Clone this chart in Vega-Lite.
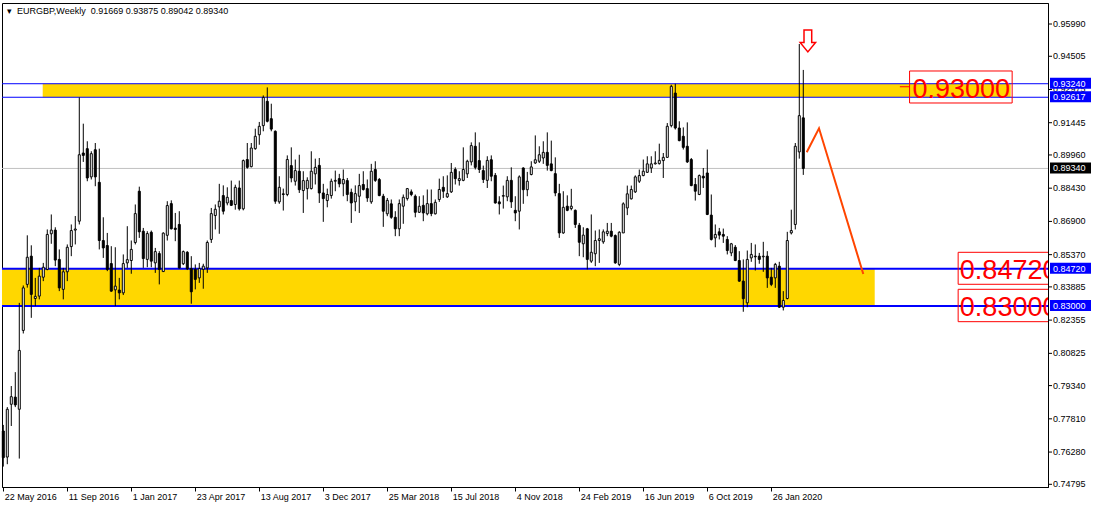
{
  "$schema": "https://vega.github.io/schema/vega-lite/v6.json",
  "width": 1046,
  "height": 484,
  "autosize": {"type": "none"},
  "padding": {"left": 2, "top": 3, "right": 46, "bottom": 21},
  "background": "white",
  "config": {"view": {"stroke": "black", "strokeWidth": 1}, "font": "Liberation Sans", "axis": {"labelOverlap": false, "labelFlush": false}},
  "title": {"text": "▾\u00a0\u00a0EURGBP,Weekly\u00a0\u00a00.91669 0.93875 0.89042 0.89340", "anchor": "start", "frame": "group", "orient": "top", "offset": -13, "dx": 5, "fontSize": 9, "fontWeight": "normal", "font": "Liberation Sans", "color": "black"},
  "data": {"values": [
    {"date":"2016-05-22","o":0.7725,"h":0.7753,"l":0.7561,"c":0.7602},
    {"date":"2016-05-29","o":0.7605,"h":0.7835,"l":0.7572,"c":0.7825},
    {"date":"2016-06-05","o":0.7848,"h":0.7932,"l":0.7748,"c":0.7883},
    {"date":"2016-06-12","o":0.7881,"h":0.7996,"l":0.7835,"c":0.7845},
    {"date":"2016-06-19","o":0.7825,"h":0.8315,"l":0.7598,"c":0.8096},
    {"date":"2016-06-26","o":0.8188,"h":0.8395,"l":0.8174,"c":0.8384},
    {"date":"2016-07-03","o":0.8400,"h":0.8626,"l":0.8385,"c":0.8525},
    {"date":"2016-07-10","o":0.8530,"h":0.8580,"l":0.8246,"c":0.8354},
    {"date":"2016-07-17","o":0.8335,"h":0.8430,"l":0.8300,"c":0.8345},
    {"date":"2016-07-24","o":0.8346,"h":0.8476,"l":0.8331,"c":0.8438},
    {"date":"2016-07-31","o":0.8433,"h":0.8499,"l":0.8415,"c":0.8479},
    {"date":"2016-08-07","o":0.8469,"h":0.8653,"l":0.8465,"c":0.8630},
    {"date":"2016-08-14","o":0.8633,"h":0.8722,"l":0.8587,"c":0.8650},
    {"date":"2016-08-21","o":0.8650,"h":0.8663,"l":0.8484,"c":0.8512},
    {"date":"2016-08-28","o":0.8515,"h":0.8561,"l":0.8369,"c":0.8384},
    {"date":"2016-09-04","o":0.8377,"h":0.8476,"l":0.8331,"c":0.8458},
    {"date":"2016-09-11","o":0.8458,"h":0.8584,"l":0.8415,"c":0.8571},
    {"date":"2016-09-18","o":0.8574,"h":0.8676,"l":0.8530,"c":0.8648},
    {"date":"2016-09-25","o":0.8650,"h":0.8715,"l":0.8584,"c":0.8655},
    {"date":"2016-10-02","o":0.8691,"h":0.9261,"l":0.8676,"c":0.8997},
    {"date":"2016-10-09","o":0.9005,"h":0.9140,"l":0.8964,"c":0.8994},
    {"date":"2016-10-16","o":0.9025,"h":0.9059,"l":0.8875,"c":0.8890},
    {"date":"2016-10-23","o":0.8895,"h":0.9013,"l":0.8883,"c":0.9002},
    {"date":"2016-10-30","o":0.9020,"h":0.9051,"l":0.8852,"c":0.8895},
    {"date":"2016-11-06","o":0.8870,"h":0.9025,"l":0.8561,"c":0.8602},
    {"date":"2016-11-13","o":0.8602,"h":0.8709,"l":0.8522,"c":0.8568},
    {"date":"2016-11-20","o":0.8579,"h":0.8637,"l":0.8461,"c":0.8469},
    {"date":"2016-11-27","o":0.8496,"h":0.8576,"l":0.8366,"c":0.8369},
    {"date":"2016-12-04","o":0.8375,"h":0.8571,"l":0.8300,"c":0.8392},
    {"date":"2016-12-11","o":0.8374,"h":0.8430,"l":0.8331,"c":0.8361},
    {"date":"2016-12-18","o":0.8361,"h":0.8538,"l":0.8351,"c":0.8496},
    {"date":"2016-12-25","o":0.8499,"h":0.8668,"l":0.8476,"c":0.8514},
    {"date":"2017-01-01","o":0.8510,"h":0.8602,"l":0.8449,"c":0.8561},
    {"date":"2017-01-08","o":0.8593,"h":0.8768,"l":0.8584,"c":0.8726},
    {"date":"2017-01-15","o":0.8829,"h":0.8850,"l":0.8614,"c":0.8642},
    {"date":"2017-01-22","o":0.8645,"h":0.8660,"l":0.8476,"c":0.8519},
    {"date":"2017-01-29","o":0.8515,"h":0.8645,"l":0.8479,"c":0.8634},
    {"date":"2017-02-05","o":0.8640,"h":0.8648,"l":0.8479,"c":0.8507},
    {"date":"2017-02-12","o":0.8499,"h":0.8568,"l":0.8453,"c":0.8551},
    {"date":"2017-02-19","o":0.8542,"h":0.8553,"l":0.8400,"c":0.8469},
    {"date":"2017-02-26","o":0.8459,"h":0.8640,"l":0.8458,"c":0.8636},
    {"date":"2017-03-05","o":0.8626,"h":0.8783,"l":0.8602,"c":0.8763},
    {"date":"2017-03-12","o":0.8772,"h":0.8787,"l":0.8653,"c":0.8656},
    {"date":"2017-03-19","o":0.8659,"h":0.8729,"l":0.8599,"c":0.8653},
    {"date":"2017-03-26","o":0.8676,"h":0.8737,"l":0.8473,"c":0.8476},
    {"date":"2017-04-02","o":0.8495,"h":0.8556,"l":0.8489,"c":0.8551},
    {"date":"2017-04-09","o":0.8548,"h":0.8553,"l":0.8466,"c":0.8472},
    {"date":"2017-04-16","o":0.8473,"h":0.8530,"l":0.8311,"c":0.8366},
    {"date":"2017-04-23","o":0.8469,"h":0.8492,"l":0.8377,"c":0.8423},
    {"date":"2017-04-30","o":0.8430,"h":0.8499,"l":0.8407,"c":0.8473},
    {"date":"2017-05-07","o":0.8469,"h":0.8495,"l":0.8380,"c":0.8484},
    {"date":"2017-05-14","o":0.8476,"h":0.8602,"l":0.8453,"c":0.8593},
    {"date":"2017-05-21","o":0.8607,"h":0.8752,"l":0.8591,"c":0.8726},
    {"date":"2017-05-28","o":0.8717,"h":0.8768,"l":0.8653,"c":0.8746},
    {"date":"2017-06-04","o":0.8757,"h":0.8863,"l":0.8633,"c":0.8783},
    {"date":"2017-06-11","o":0.8809,"h":0.8856,"l":0.8722,"c":0.8737},
    {"date":"2017-06-18","o":0.8775,"h":0.8847,"l":0.8764,"c":0.8801},
    {"date":"2017-06-25","o":0.8786,"h":0.8878,"l":0.8762,"c":0.8764},
    {"date":"2017-07-02","o":0.8768,"h":0.8859,"l":0.8744,"c":0.8847},
    {"date":"2017-07-09","o":0.8844,"h":0.8878,"l":0.8740,"c":0.8748},
    {"date":"2017-07-16","o":0.8748,"h":0.8975,"l":0.8741,"c":0.8970},
    {"date":"2017-07-23","o":0.8975,"h":0.9051,"l":0.8933,"c":0.8939},
    {"date":"2017-07-30","o":0.8942,"h":0.9051,"l":0.8939,"c":0.9028},
    {"date":"2017-08-06","o":0.9025,"h":0.9117,"l":0.9020,"c":0.9082},
    {"date":"2017-08-13","o":0.9089,"h":0.9148,"l":0.9043,"c":0.9128},
    {"date":"2017-08-20","o":0.9131,"h":0.9270,"l":0.9105,"c":0.9261},
    {"date":"2017-08-27","o":0.9243,"h":0.9307,"l":0.9146,"c":0.9151},
    {"date":"2017-09-03","o":0.9163,"h":0.9232,"l":0.9105,"c":0.9115},
    {"date":"2017-09-10","o":0.9105,"h":0.9109,"l":0.8771,"c":0.8783},
    {"date":"2017-09-17","o":0.8780,"h":0.8898,"l":0.8771,"c":0.8847},
    {"date":"2017-09-24","o":0.8817,"h":0.8841,"l":0.8740,"c":0.8814},
    {"date":"2017-10-01","o":0.8814,"h":0.8994,"l":0.8806,"c":0.8975},
    {"date":"2017-10-08","o":0.8947,"h":0.9031,"l":0.8870,"c":0.8890},
    {"date":"2017-10-15","o":0.8875,"h":0.8975,"l":0.8855,"c":0.8924},
    {"date":"2017-10-22","o":0.8921,"h":0.8997,"l":0.8821,"c":0.8836},
    {"date":"2017-10-29","o":0.8832,"h":0.8921,"l":0.8729,"c":0.8878},
    {"date":"2017-11-05","o":0.8841,"h":0.8893,"l":0.8791,"c":0.8879},
    {"date":"2017-11-12","o":0.8841,"h":0.9013,"l":0.8837,"c":0.8921},
    {"date":"2017-11-19","o":0.8909,"h":0.8979,"l":0.8860,"c":0.8939},
    {"date":"2017-11-26","o":0.8948,"h":0.8982,"l":0.8775,"c":0.8821},
    {"date":"2017-12-03","o":0.8821,"h":0.8863,"l":0.8688,"c":0.8795},
    {"date":"2017-12-10","o":0.8786,"h":0.8841,"l":0.8755,"c":0.8814},
    {"date":"2017-12-17","o":0.8809,"h":0.8887,"l":0.8795,"c":0.8875},
    {"date":"2017-12-24","o":0.8875,"h":0.8924,"l":0.8829,"c":0.8879},
    {"date":"2017-12-31","o":0.8887,"h":0.8909,"l":0.8847,"c":0.8863},
    {"date":"2018-01-07","o":0.8863,"h":0.8929,"l":0.8806,"c":0.8883},
    {"date":"2018-01-14","o":0.8878,"h":0.8890,"l":0.8783,"c":0.8814},
    {"date":"2018-01-21","o":0.8824,"h":0.8841,"l":0.8683,"c":0.8775},
    {"date":"2018-01-28","o":0.8780,"h":0.8856,"l":0.8737,"c":0.8818},
    {"date":"2018-02-04","o":0.8806,"h":0.8909,"l":0.8729,"c":0.8855},
    {"date":"2018-02-11","o":0.8860,"h":0.8921,"l":0.8832,"c":0.8837},
    {"date":"2018-02-18","o":0.8841,"h":0.8883,"l":0.8780,"c":0.8798},
    {"date":"2018-02-25","o":0.8780,"h":0.8955,"l":0.8771,"c":0.8921},
    {"date":"2018-03-04","o":0.8929,"h":0.8967,"l":0.8872,"c":0.8879},
    {"date":"2018-03-11","o":0.8883,"h":0.8890,"l":0.8806,"c":0.8809},
    {"date":"2018-03-18","o":0.8806,"h":0.8817,"l":0.8665,"c":0.8737},
    {"date":"2018-03-25","o":0.8725,"h":0.8798,"l":0.8714,"c":0.8787},
    {"date":"2018-04-01","o":0.8771,"h":0.8791,"l":0.8702,"c":0.8709},
    {"date":"2018-04-08","o":0.8709,"h":0.8737,"l":0.8622,"c":0.8656},
    {"date":"2018-04-15","o":0.8656,"h":0.8791,"l":0.8622,"c":0.8772},
    {"date":"2018-04-22","o":0.8760,"h":0.8814,"l":0.8679,"c":0.8801},
    {"date":"2018-04-29","o":0.8795,"h":0.8844,"l":0.8786,"c":0.8841},
    {"date":"2018-05-06","o":0.8826,"h":0.8837,"l":0.8806,"c":0.8814},
    {"date":"2018-05-13","o":0.8806,"h":0.8814,"l":0.8709,"c":0.8732},
    {"date":"2018-05-20","o":0.8732,"h":0.8806,"l":0.8729,"c":0.8760},
    {"date":"2018-05-27","o":0.8764,"h":0.8810,"l":0.8691,"c":0.8729},
    {"date":"2018-06-03","o":0.8725,"h":0.8837,"l":0.8718,"c":0.8772},
    {"date":"2018-06-10","o":0.8772,"h":0.8837,"l":0.8714,"c":0.8726},
    {"date":"2018-06-17","o":0.8725,"h":0.8791,"l":0.8722,"c":0.8778},
    {"date":"2018-06-24","o":0.8791,"h":0.8887,"l":0.8780,"c":0.8837},
    {"date":"2018-07-01","o":0.8847,"h":0.8898,"l":0.8798,"c":0.8829},
    {"date":"2018-07-08","o":0.8803,"h":0.8902,"l":0.8798,"c":0.8818},
    {"date":"2018-07-15","o":0.8826,"h":0.8959,"l":0.8821,"c":0.8916},
    {"date":"2018-07-22","o":0.8929,"h":0.8939,"l":0.8860,"c":0.8887},
    {"date":"2018-07-29","o":0.8878,"h":0.8921,"l":0.8855,"c":0.8887},
    {"date":"2018-08-05","o":0.8879,"h":0.9031,"l":0.8875,"c":0.8929},
    {"date":"2018-08-12","o":0.8909,"h":0.8974,"l":0.8890,"c":0.8967},
    {"date":"2018-08-19","o":0.8964,"h":0.9054,"l":0.8948,"c":0.9039},
    {"date":"2018-08-26","o":0.9036,"h":0.9100,"l":0.8929,"c":0.8939},
    {"date":"2018-09-02","o":0.8970,"h":0.9054,"l":0.8913,"c":0.8929},
    {"date":"2018-09-09","o":0.8924,"h":0.8947,"l":0.8867,"c":0.8883},
    {"date":"2018-09-16","o":0.8879,"h":0.8990,"l":0.8844,"c":0.8971},
    {"date":"2018-09-23","o":0.8974,"h":0.8994,"l":0.8875,"c":0.8898},
    {"date":"2018-09-30","o":0.8902,"h":0.8913,"l":0.8772,"c":0.8775},
    {"date":"2018-10-07","o":0.8780,"h":0.8806,"l":0.8722,"c":0.8771},
    {"date":"2018-10-14","o":0.8806,"h":0.8855,"l":0.8749,"c":0.8809},
    {"date":"2018-10-21","o":0.8803,"h":0.8898,"l":0.8783,"c":0.8879},
    {"date":"2018-10-28","o":0.8879,"h":0.8939,"l":0.8752,"c":0.8780},
    {"date":"2018-11-04","o":0.8741,"h":0.8806,"l":0.8691,"c":0.8729},
    {"date":"2018-11-11","o":0.8737,"h":0.8902,"l":0.8653,"c":0.8895},
    {"date":"2018-11-18","o":0.8936,"h":0.8939,"l":0.8771,"c":0.8836},
    {"date":"2018-11-25","o":0.8836,"h":0.8918,"l":0.8806,"c":0.8875},
    {"date":"2018-12-02","o":0.8906,"h":0.8967,"l":0.8902,"c":0.8941},
    {"date":"2018-12-09","o":0.8959,"h":0.9086,"l":0.8955,"c":0.8974},
    {"date":"2018-12-16","o":0.8967,"h":0.9036,"l":0.8959,"c":0.8997},
    {"date":"2018-12-23","o":0.8982,"h":0.9059,"l":0.8955,"c":0.9008},
    {"date":"2018-12-30","o":0.9008,"h":0.9100,"l":0.8924,"c":0.8948},
    {"date":"2019-01-06","o":0.8955,"h":0.9062,"l":0.8921,"c":0.8924},
    {"date":"2019-01-13","o":0.8910,"h":0.8985,"l":0.8806,"c":0.8821},
    {"date":"2019-01-20","o":0.8818,"h":0.8863,"l":0.8614,"c":0.8637},
    {"date":"2019-01-27","o":0.8637,"h":0.8829,"l":0.8633,"c":0.8755},
    {"date":"2019-02-03","o":0.8760,"h":0.8810,"l":0.8737,"c":0.8741},
    {"date":"2019-02-10","o":0.8749,"h":0.8840,"l":0.8741,"c":0.8760},
    {"date":"2019-02-17","o":0.8741,"h":0.8745,"l":0.8660,"c":0.8676},
    {"date":"2019-02-24","o":0.8672,"h":0.8683,"l":0.8530,"c":0.8594},
    {"date":"2019-03-03","o":0.8587,"h":0.8663,"l":0.8525,"c":0.8627},
    {"date":"2019-03-10","o":0.8656,"h":0.8660,"l":0.8469,"c":0.8515},
    {"date":"2019-03-17","o":0.8507,"h":0.8722,"l":0.8499,"c":0.8548},
    {"date":"2019-03-24","o":0.8541,"h":0.8648,"l":0.8484,"c":0.8602},
    {"date":"2019-03-31","o":0.8602,"h":0.8653,"l":0.8499,"c":0.8610},
    {"date":"2019-04-07","o":0.8596,"h":0.8653,"l":0.8587,"c":0.8642},
    {"date":"2019-04-14","o":0.8634,"h":0.8683,"l":0.8622,"c":0.8645},
    {"date":"2019-04-21","o":0.8645,"h":0.8683,"l":0.8617,"c":0.8622},
    {"date":"2019-04-28","o":0.8625,"h":0.8630,"l":0.8495,"c":0.8499},
    {"date":"2019-05-05","o":0.8492,"h":0.8645,"l":0.8484,"c":0.8640},
    {"date":"2019-05-12","o":0.8637,"h":0.8778,"l":0.8637,"c":0.8771},
    {"date":"2019-05-19","o":0.8752,"h":0.8855,"l":0.8719,"c":0.8817},
    {"date":"2019-05-26","o":0.8794,"h":0.8855,"l":0.8791,"c":0.8837},
    {"date":"2019-06-02","o":0.8826,"h":0.8902,"l":0.8821,"c":0.8895},
    {"date":"2019-06-09","o":0.8875,"h":0.8929,"l":0.8867,"c":0.8901},
    {"date":"2019-06-16","o":0.8901,"h":0.8975,"l":0.8898,"c":0.8921},
    {"date":"2019-06-23","o":0.8916,"h":0.8990,"l":0.8913,"c":0.8955},
    {"date":"2019-06-30","o":0.8936,"h":0.8990,"l":0.8913,"c":0.8955},
    {"date":"2019-07-07","o":0.8955,"h":0.9013,"l":0.8952,"c":0.8959},
    {"date":"2019-07-14","o":0.8956,"h":0.9048,"l":0.8952,"c":0.8971},
    {"date":"2019-07-21","o":0.8970,"h":0.9005,"l":0.8890,"c":0.8985},
    {"date":"2019-07-28","o":0.8985,"h":0.9143,"l":0.8982,"c":0.9128},
    {"date":"2019-08-04","o":0.9131,"h":0.9319,"l":0.9123,"c":0.9312},
    {"date":"2019-08-11","o":0.9281,"h":0.9324,"l":0.9113,"c":0.9120},
    {"date":"2019-08-18","o":0.9120,"h":0.9151,"l":0.9059,"c":0.9062},
    {"date":"2019-08-25","o":0.9082,"h":0.9123,"l":0.9021,"c":0.9031},
    {"date":"2019-09-01","o":0.9036,"h":0.9146,"l":0.8959,"c":0.8964},
    {"date":"2019-09-08","o":0.8975,"h":0.8982,"l":0.8852,"c":0.8855},
    {"date":"2019-09-15","o":0.8860,"h":0.8890,"l":0.8786,"c":0.8829},
    {"date":"2019-09-22","o":0.8814,"h":0.8906,"l":0.8811,"c":0.8901},
    {"date":"2019-09-29","o":0.8898,"h":0.8936,"l":0.8844,"c":0.8890},
    {"date":"2019-10-06","o":0.8913,"h":0.9021,"l":0.8719,"c":0.8722},
    {"date":"2019-10-13","o":0.8719,"h":0.8814,"l":0.8602,"c":0.8607},
    {"date":"2019-10-20","o":0.8614,"h":0.8676,"l":0.8571,"c":0.8630},
    {"date":"2019-10-27","o":0.8642,"h":0.8660,"l":0.8607,"c":0.8627},
    {"date":"2019-11-03","o":0.8630,"h":0.8657,"l":0.8591,"c":0.8622},
    {"date":"2019-11-10","o":0.8607,"h":0.8622,"l":0.8538,"c":0.8556},
    {"date":"2019-11-17","o":0.8545,"h":0.8591,"l":0.8530,"c":0.8587},
    {"date":"2019-11-24","o":0.8571,"h":0.8581,"l":0.8507,"c":0.8510},
    {"date":"2019-12-01","o":0.8510,"h":0.8553,"l":0.8412,"c":0.8415},
    {"date":"2019-12-08","o":0.8415,"h":0.8515,"l":0.8274,"c":0.8334},
    {"date":"2019-12-15","o":0.8315,"h":0.8556,"l":0.8295,"c":0.8515},
    {"date":"2019-12-22","o":0.8522,"h":0.8591,"l":0.8504,"c":0.8538},
    {"date":"2019-12-29","o":0.8530,"h":0.8584,"l":0.8464,"c":0.8527},
    {"date":"2020-01-05","o":0.8530,"h":0.8545,"l":0.8495,"c":0.8515},
    {"date":"2020-01-12","o":0.8527,"h":0.8596,"l":0.8458,"c":0.8530},
    {"date":"2020-01-19","o":0.8530,"h":0.8553,"l":0.8384,"c":0.8430},
    {"date":"2020-01-26","o":0.8433,"h":0.8476,"l":0.8392,"c":0.8400},
    {"date":"2020-02-02","o":0.8430,"h":0.8499,"l":0.8384,"c":0.8492},
    {"date":"2020-02-09","o":0.8484,"h":0.8504,"l":0.8292,"c":0.8295},
    {"date":"2020-02-16","o":0.8295,"h":0.8369,"l":0.8280,"c":0.8326},
    {"date":"2020-02-23","o":0.8335,"h":0.8642,"l":0.8331,"c":0.8602},
    {"date":"2020-03-01","o":0.8637,"h":0.8744,"l":0.8630,"c":0.8648},
    {"date":"2020-03-08","o":0.8676,"h":0.9051,"l":0.8653,"c":0.9036},
    {"date":"2020-03-15","o":0.9010,"h":0.9507,"l":0.8979,"c":0.9177},
    {"date":"2020-03-22","o":0.91669,"h":0.93875,"l":0.89042,"c":0.89340}
  ]},
  "layer": [
    {
      "data": {"values": [
        {"date":"2016-07-30T00:00:00Z","date2":"2021-03-20T00:00:00Z","lo":0.92617,"hi":0.9324},
        {"date":"2016-05-01T00:00:00Z","date2":"2020-07-25T00:00:00Z","lo":0.83,"hi":0.8472}
      ]},
      "mark": {"type": "rect", "fill": "#FFD700", "clip": true},
      "encoding": {
        "x": {"field": "date", "type": "temporal", "title": null,
          "scale": {"type": "utc", "padding": 0, "domain": [{"year":2016,"month":5,"date":19,"hours":18,"utc":true},{"year":2021,"month":5,"date":24,"hours":6,"utc":true}]},
          "axis": {"orient": "bottom", "format": "%-d %b %Y", "labelAlign": "left", "labelOffset": 1, "labelPadding": 1, "tickSize": 4, "labelFontSize": 9, "labelFont": "Liberation Sans", "labelColor": "black", "tickColor": "black", "domainColor": "black", "grid": false, "labelFlush": false, "labelOverlap": false,
            "values": [
              {"year":2016,"month":5,"date":22,"utc":true},{"year":2016,"month":9,"date":11,"utc":true},{"year":2017,"month":1,"date":1,"utc":true},
              {"year":2017,"month":4,"date":23,"utc":true},{"year":2017,"month":8,"date":13,"utc":true},{"year":2017,"month":12,"date":3,"utc":true},
              {"year":2018,"month":3,"date":25,"utc":true},{"year":2018,"month":7,"date":15,"utc":true},{"year":2018,"month":11,"date":4,"utc":true},
              {"year":2019,"month":2,"date":24,"utc":true},{"year":2019,"month":6,"date":16,"utc":true},{"year":2019,"month":10,"date":6,"utc":true},
              {"year":2020,"month":1,"date":26,"utc":true}]}},
        "x2": {"field": "date2"},
        "y": {"field": "lo", "type": "quantitative", "title": null,
          "scale": {"domain": [0.74671, 0.96957], "nice": false, "zero": false, "padding": 0},
          "axis": {"orient": "right", "labels": false, "ticks": false, "domain": true, "domainColor": "black", "grid": false}},
        "y2": {"field": "hi"}
      }
    },
    {
      "data": {"values": [{"price": 0.8934}]},
      "mark": {"type": "rule", "color": "#C0C0C0", "strokeWidth": 1},
      "encoding": {"y": {"field": "price", "type": "quantitative", "title": null}}
    },
    {
      "data": {"values": [{"price": 0.9324}, {"price": 0.92617}]},
      "mark": {"type": "rule", "color": "#0000FF", "strokeWidth": 1},
      "encoding": {"y": {"field": "price", "type": "quantitative", "title": null}}
    },
    {
      "data": {"values": [{"price": 0.8472}, {"price": 0.83}]},
      "mark": {"type": "rule", "color": "#0000FF", "strokeWidth": 2},
      "encoding": {"y": {"field": "price", "type": "quantitative", "title": null}}
    },
    {
      "mark": {"type": "rule", "color": "black", "strokeWidth": 1},
      "encoding": {
        "x": {"field": "date", "type": "temporal", "title": null},
        "y": {"field": "l", "type": "quantitative", "title": null},
        "y2": {"field": "h"}
      }
    },
    {
      "mark": {"type": "bar", "size": 2, "stroke": "black", "strokeWidth": 1},
      "encoding": {
        "x": {"field": "date", "type": "temporal", "title": null},
        "y": {"field": "o", "type": "quantitative", "title": null},
        "y2": {"field": "c"},
        "fill": {"condition": {"test": "datum.c >= datum.o", "value": "white"}, "value": "black"}
      }
    },
    {
      "data": {"values": [
        {"date":"2020-03-28T00:00:00Z","price":0.90083},
        {"date":"2020-04-18T12:00:00Z","price":0.91188},
        {"date":"2020-07-05T00:00:00Z","price":0.84479}
      ]},
      "mark": {"type": "line", "color": "#FF4500", "strokeWidth": 2},
      "encoding": {
        "x": {"field": "date", "type": "temporal", "title": null},
        "y": {"field": "price", "type": "quantitative", "title": null}
      }
    },
    {
      "data": {"values": [{"date":"2020-03-30T00:00:00Z","price":0.9521}]},
      "mark": {"type": "point", "shape": "M -0.35 -1 L 0.35 -1 L 0.35 0.15 L 0.7 0.15 L 0 1 L -0.7 0.15 L -0.35 0.15 Z", "size": 484, "filled": true, "fill": "white", "stroke": "#FF0000", "strokeWidth": 1.5, "opacity": 1},
      "encoding": {
        "x": {"field": "date", "type": "temporal", "title": null},
        "y": {"field": "price", "type": "quantitative", "title": null}
      }
    },
    {
      "data": {"values": [
        {"date":"2020-09-24T00:00:00Z","date2":"2021-03-22T12:00:00Z","lo":0.92353,"hi":0.93826},
        {"date":"2020-12-18T00:00:00Z","date2":"2021-12-01T00:00:00Z","lo":0.84005,"hi":0.85478},
        {"date":"2020-12-18T00:00:00Z","date2":"2021-12-01T00:00:00Z","lo":0.82283,"hi":0.83774}
      ]},
      "mark": {"type": "rect", "fill": "white", "fillOpacity": 0, "stroke": "#FF0000", "strokeWidth": 1, "clip": true},
      "encoding": {
        "x": {"field": "date", "type": "temporal", "title": null},
        "x2": {"field": "date2"},
        "y": {"field": "lo", "type": "quantitative", "title": null},
        "y2": {"field": "hi"}
      }
    },
    {
      "data": {"values": [{"date":"2020-09-07T00:00:00Z","date2":"2020-09-24T00:00:00Z","price":0.9310}]},
      "mark": {"type": "rule", "color": "#FF0000", "strokeWidth": 1},
      "encoding": {
        "x": {"field": "date", "type": "temporal", "title": null},
        "x2": {"field": "date2"},
        "y": {"field": "price", "type": "quantitative", "title": null}
      }
    },
    {
      "data": {"values": [
        {"date":"2020-09-29T00:00:00Z","price":0.92583,"label":"0.93000"},
        {"date":"2020-12-21T00:00:00Z","price":0.84249,"label":"0.84720"},
        {"date":"2020-12-21T00:00:00Z","price":0.82545,"label":"0.83000"}
      ]},
      "mark": {"type": "text", "align": "left", "baseline": "alphabetic", "fontSize": 27, "font": "Liberation Sans", "color": "#FF0000", "clip": true},
      "encoding": {
        "x": {"field": "date", "type": "temporal", "title": null},
        "y": {"field": "price", "type": "quantitative", "title": null},
        "text": {"field": "label"}
      }
    },
    {
      "data": {"values": [
        {"price": 0.9599}, {"price": 0.94505}, {"price": 0.92975}, {"price": 0.91445}, {"price": 0.8996},
        {"price": 0.8843}, {"price": 0.869}, {"price": 0.8537}, {"price": 0.83885}, {"price": 0.82355},
        {"price": 0.80825}, {"price": 0.7934}, {"price": 0.7781}, {"price": 0.7628}, {"price": 0.74795}
      ]},
      "layer": [
        {
          "mark": {"type": "rule", "color": "black", "strokeWidth": 1, "x2Offset": 4},
          "encoding": {
            "x": {"value": "width"},
            "x2": {"value": "width"},
            "y": {"field": "price", "type": "quantitative", "title": null}
          }
        },
        {
          "mark": {"type": "text", "align": "left", "baseline": "middle", "dx": 5, "fontSize": 9, "font": "Liberation Sans", "color": "black"},
          "encoding": {
            "x": {"value": "width"},
            "y": {"field": "price", "type": "quantitative", "title": null},
            "text": {"field": "price", "type": "quantitative", "format": ".5f"}
          }
        }
      ]
    },
    {
      "data": {"values": [
        {"price": 0.9324, "kind": "level"},
        {"price": 0.92617, "kind": "level"},
        {"price": 0.8934, "kind": "current"},
        {"price": 0.8472, "kind": "level"},
        {"price": 0.83, "kind": "level"}
      ]},
      "layer": [
        {
          "mark": {"type": "rect", "xOffset": 2, "x2Offset": 43, "yOffset": -6, "y2Offset": 5},
          "encoding": {
            "x": {"value": "width"},
            "x2": {"value": "width"},
            "y": {"field": "price", "type": "quantitative", "title": null},
            "y2": {"field": "price"},
            "fill": {"field": "kind", "type": "nominal", "legend": null, "scale": {"domain": ["level", "current"], "range": ["#0000FF", "#000000"]}}
          }
        },
        {
          "mark": {"type": "text", "align": "left", "baseline": "middle", "dx": 5, "fontSize": 9, "font": "Liberation Sans", "color": "white"},
          "encoding": {
            "x": {"value": "width"},
            "y": {"field": "price", "type": "quantitative", "title": null},
            "text": {"field": "price", "type": "quantitative", "format": ".5f"}
          }
        }
      ]
    }
  ]
}
